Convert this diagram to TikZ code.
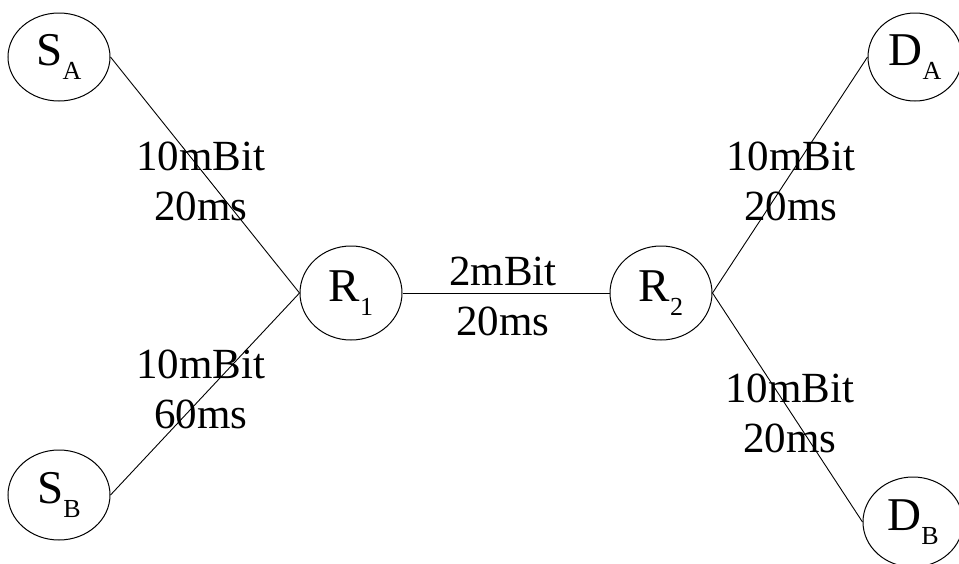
\documentclass[tikz,border=0pt]{standalone}
\usepackage{fontspec}
\setmainfont{Liberation Serif}
\usetikzlibrary{shapes.geometric}
\tikzset{
  netnode/.style={draw, ellipse, line width=1pt, minimum width=102pt, minimum height=88pt, inner sep=0pt},
  link/.style={line width=0.9pt},
  lbl/.style={align=center, font=\fontsize{43}{50}\selectfont, inner sep=0pt}
}
\newcommand{\nlab}[2]{\fontsize{47}{47}\selectfont #1\raisebox{-14pt}{\fontsize{26}{26}\selectfont #2}}
\begin{document}
\begin{tikzpicture}[x=1pt,y=-1pt]
\useasboundingbox (0,0) rectangle (959,563);
\node[netnode] (SA) at (59,57) {\nlab{S}{A}};
\node[netnode, minimum height=90pt] (SB) at (59,495) {\nlab{S}{B}};
\node[netnode, minimum height=94pt] (R1) at (351,293) {\nlab{R}{1}};
\node[netnode, minimum height=94pt] (R2) at (661,293) {\nlab{R}{2}};
\node[netnode, minimum width=94pt] (DA) at (915,57) {\nlab{D}{A}};
\node[netnode, minimum width=100pt, minimum height=90pt] (DB) at (913,522) {\nlab{D}{B}};
\draw[link] (SA.east) -- (R1.west);
\draw[link] (SB.east) -- (R1.west);
\draw[link] (R1.east) -- (R2.west);
\draw[link] (R2.east) -- (DA.west);
\draw[link] (R2.east) -- (DB.west);
\node[lbl] (l1) at (201,181) {10mBit\\20ms};
\node[lbl] (l2) at (503,296) {2mBit\\20ms};
\node[lbl] (l3) at (201,389) {10mBit\\60ms};
\node[lbl] (l4) at (791,181) {10mBit\\20ms};
\node[lbl] (l5) at (790,413) {10mBit\\20ms};
\end{tikzpicture}
\end{document}
